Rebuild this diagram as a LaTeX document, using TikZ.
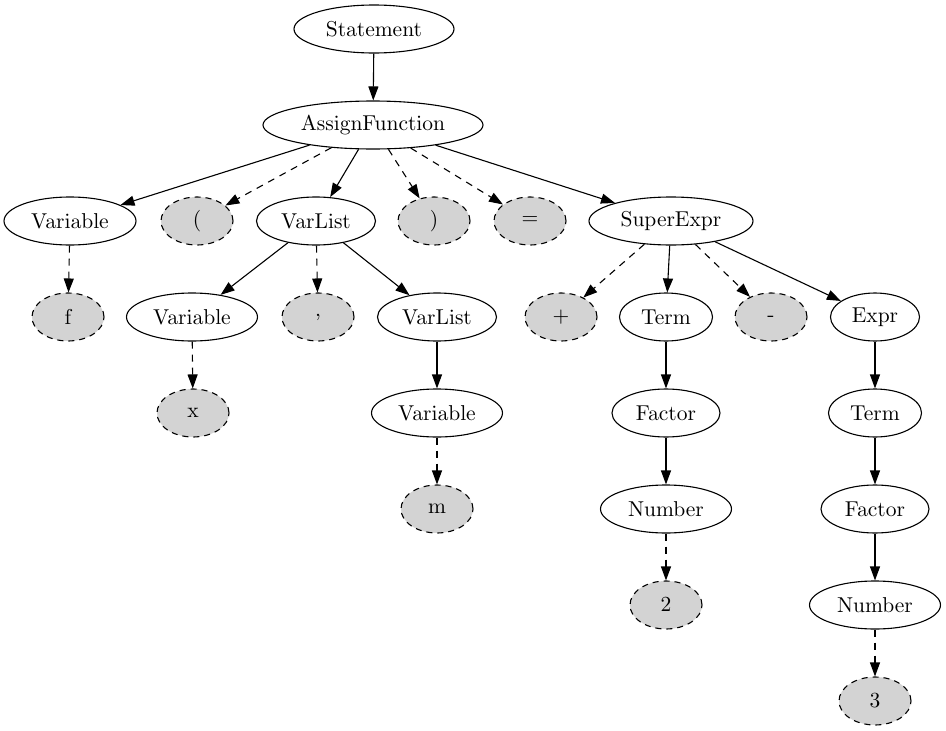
\documentclass[tikz,border=0pt]{standalone}
\usetikzlibrary{arrows.meta,shapes.geometric}
\definecolor{litfill}{HTML}{D3D3D3}
% node labels use the 10pt design, scaled up
\font\nodefont=cmr10 at 21.5pt
\begin{document}
\begin{tikzpicture}[x=1pt,y=-1pt,
  tn/.style={draw, ellipse, line width=1.1pt, minimum height=48pt, inner sep=0pt,
             font=\nodefont},
  lit/.style={tn, fill=litfill, dash pattern=on 6pt off 5pt, minimum width=72pt},
  edge/.style={line width=1.1pt, -{Triangle[length=14pt,width=10pt]}},
  dedge/.style={edge, dash pattern=on 7pt off 6pt}]
\useasboundingbox (0,0) rectangle (946,731);

% level 0-1
\node[tn, minimum width=160pt] (stmt) at (374,29) {Statement};
\node[tn, minimum width=220pt] (assign) at (373,125) {AssignFunction};

% level 2
\node[tn, minimum width=132pt] (var1) at (70,221) {Variable};
\node[lit] (lpar) at (197,221) {(};
\node[tn, minimum width=119pt] (vl1) at (316,221) {VarList};
\node[lit] (rpar) at (434,221) {)};
\node[lit] (eq) at (530,221) {=};
\node[tn, minimum width=164pt] (sup) at (671,221) {SuperExpr};

% level 3
\node[lit] (f) at (68,317) {f};
\node[tn, minimum width=131pt] (var2) at (192,317) {Variable};
\node[lit] (comma) at (318,317) {,};
\node[tn, minimum width=119pt] (vl2) at (437,317) {VarList};
\node[lit] (plus) at (561,317) {+};
\node[tn, minimum width=93pt] (term1) at (666,317) {Term};
\node[lit] (minus) at (771,317) {-};
\node[tn, minimum width=89pt] (expr) at (875,317) {Expr};

% level 4
\node[lit] (x) at (193,413) {x};
\node[tn, minimum width=131pt] (var3) at (437,413) {Variable};
\node[tn, minimum width=108pt] (fac1) at (666,413) {Factor};
\node[tn, minimum width=93pt] (term2) at (875,413) {Term};

% level 5
\node[lit] (m) at (437,509) {m};
\node[tn, minimum width=131pt] (num1) at (666,509) {Number};
\node[tn, minimum width=108pt] (fac2) at (875,509) {Factor};

% level 6-7
\node[lit] (two) at (666,605) {2};
\node[tn, minimum width=131pt] (num2) at (875,605) {Number};
\node[lit] (three) at (875,701) {3};

% connectors
\draw[edge] (stmt) -- (assign);
\draw[edge] (assign) -- (var1);
\draw[dedge] (assign) -- (lpar);
\draw[edge] (assign) -- (vl1);
\draw[dedge] (assign) -- (rpar);
\draw[dedge] (assign) -- (eq);
\draw[edge] (assign) -- (sup);

\draw[dedge] (var1) -- (f);
\draw[edge] (vl1) -- (var2);
\draw[dedge] (vl1) -- (comma);
\draw[edge] (vl1) -- (vl2);
\draw[dedge] (sup) -- (plus);
\draw[edge] (sup) -- (term1);
\draw[dedge] (sup) -- (minus);
\draw[edge] (sup) -- (expr);

\draw[dedge] (var2) -- (x);
\draw[edge] (vl2) -- (var3);
\draw[edge] (term1) -- (fac1);
\draw[edge] (expr) -- (term2);

\draw[dedge] (var3) -- (m);
\draw[edge] (fac1) -- (num1);
\draw[edge] (term2) -- (fac2);

\draw[dedge] (num1) -- (two);
\draw[edge] (fac2) -- (num2);
\draw[dedge] (num2) -- (three);
\end{tikzpicture}
\end{document}
